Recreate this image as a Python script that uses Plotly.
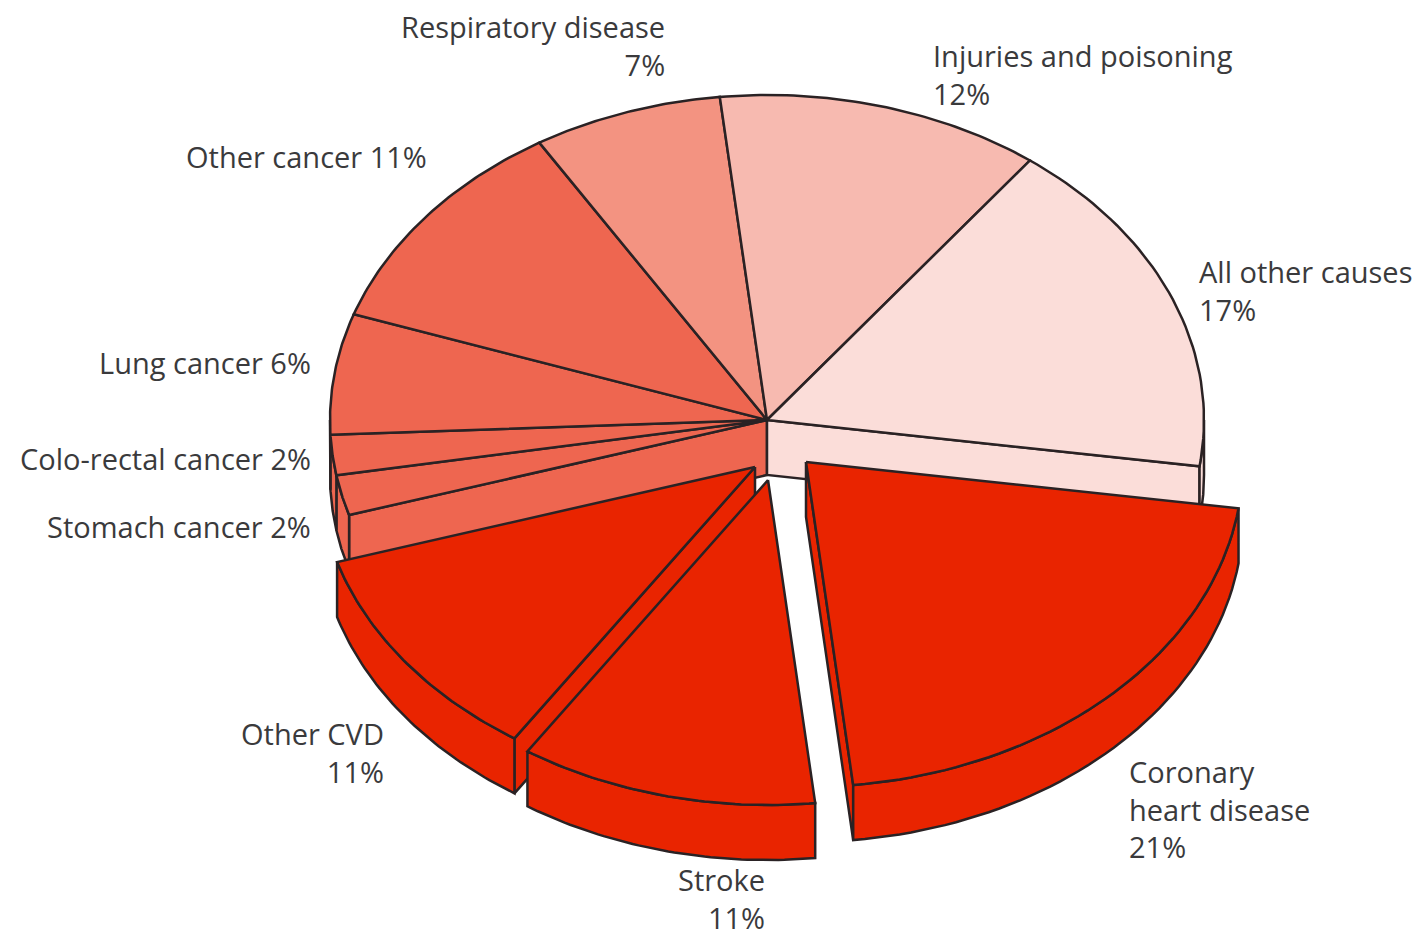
import numpy as np
import plotly.graph_objects as go

# ---- chart data (clockwise from the right-hand edge of the coronary slice)
categories = ["Coronary heart disease", "Stroke", "Other CVD", "Stomach cancer",
              "Colo-rectal cancer", "Lung cancer", "Other cancer",
              "Respiratory disease", "Injuries and poisoning", "All other causes"]
percent = [21, 11, 11, 2, 2, 6, 11, 7, 12, 17]
label_text = ["Coronary<br>heart disease<br>21%", "Stroke<br>11%", "Other CVD<br>11%",
              "Stomach cancer 2%", "Colo-rectal cancer 2%", "Lung cancer 6%",
              "Other cancer 11%", "Respiratory disease<br>7%",
              "Injuries and poisoning<br>12%", "All other causes<br>17%"]
colors = ["#E92400", "#E92400", "#E92400", "#EE6650", "#EE6650", "#EE6650", "#EE6650",
          "#F39381", "#F7BAB0", "#FBDDD9"]
pull_x = [39, 1, -12, 0, 0, 0, 0, 0, 0, 0]
pull_y = [42, 60, 47, 0, 0, 0, 0, 0, 0, 0]

# ---- layout of the drawing
W, H = 1422, 937
CX, CY, RX, RY, DEPTH = 767, 420, 437, 325, 55
START = -8.2
INK = "#2A2224"
LW = 2.5
label_x = [1129, 765, 384, 311, 311, 311, 427, 665, 933, 1199]
label_y = [809, 898, 752, 526, 458, 362, 156, 45, 74, 290]
label_anchor = ["left", "right", "right", "right", "right", "right", "right", "right", "left", "left"]

fig = go.Figure()


def poly(xs, ys, color):
    fig.add_trace(go.Scatter(x=list(xs), y=list(ys), mode="lines", fill="toself",
                             fillcolor=color, line=dict(color=INK, width=LW),
                             hoverinfo="skip", showlegend=False))


def arc(a0, a1, ox, oy, n=50):
    t = np.radians(np.linspace(a0, a1, n))
    return CX + ox + RX * np.cos(t), CY + oy - RY * np.sin(t)


def cut_face(angle, ox, oy, color):
    x = CX + ox + RX * np.cos(np.radians(angle))
    y = CY + oy - RY * np.sin(np.radians(angle))
    ax, ay = CX + ox, CY + oy
    poly([ax, x, x, ax, ax], [ay, y, y + DEPTH, ay + DEPTH, ay], color)


def faces(a_start, a_end, ox, oy, c_start, c_end):
    # a cut face shows only when the drop of the wall falls outside the slice
    if np.cos(np.radians(a_start)) < 0:
        cut_face(a_start, ox, oy, c_start)
    if np.cos(np.radians(a_end)) > 0:
        cut_face(a_end, ox, oy, c_end)


def rim(a0, a1, ox, oy, color):
    # only the part of the outer wall facing the viewer (sin < 0)
    lo, hi = min(a0, a1), max(a0, a1)
    for shift in (0, -360):
        l, h = max(lo, -180 + shift), min(hi, 0 + shift)
        if h > l:
            x, y = arc(l, h, ox, oy)
            poly(np.r_[x, x[::-1], x[0]], np.r_[y, y[::-1] + DEPTH, y[0]], color)


def top(a0, a1, ox, oy, color):
    x, y = arc(a0, a1, ox, oy)
    ax, ay = CX + ox, CY + oy
    poly(np.r_[ax, x, ax], np.r_[ay, y, ay], color)


# slice angles from the values
spans = [p / sum(percent) * 360 for p in percent]
ends = START - np.cumsum(spans)
starts = np.r_[START, ends[:-1]]

# the unpulled part of the pie, drawn first
back = [i for i in range(len(percent)) if pull_x[i] == 0 and pull_y[i] == 0]
faces(starts[back[0]], ends[back[-1]], 0, 0, colors[back[0]], colors[back[-1]])
for i in back:
    rim(ends[i], starts[i], 0, 0, colors[i])
for i in back:
    top(starts[i], ends[i], 0, 0, colors[i])

# pulled slices, back to front
for i in [2, 1, 0]:
    ox, oy = pull_x[i], pull_y[i]
    faces(starts[i], ends[i], ox, oy, colors[i], colors[i])
    rim(ends[i], starts[i], ox, oy, colors[i])
    top(starts[i], ends[i], ox, oy, colors[i])

for t, x, y, a in zip(label_text, label_x, label_y, label_anchor):
    fig.add_annotation(x=x, y=y, text=t, showarrow=False, xanchor=a, yanchor="middle",
                       align=a, borderpad=0, borderwidth=0,
                       font=dict(family="Open Sans", size=29, color="#3A3A3C"))

fig.update_xaxes(range=[0, W], visible=False, fixedrange=True)
fig.update_yaxes(range=[H, 0], visible=False, fixedrange=True)
fig.update_layout(width=W, height=H, margin=dict(l=0, r=0, t=0, b=0),
                  paper_bgcolor="white", plot_bgcolor="white", showlegend=False)
fig.write_html("out.html", config={"displayModeBar": False},
               post_script="document.body.style.margin='0';document.body.style.overflow='hidden';")
